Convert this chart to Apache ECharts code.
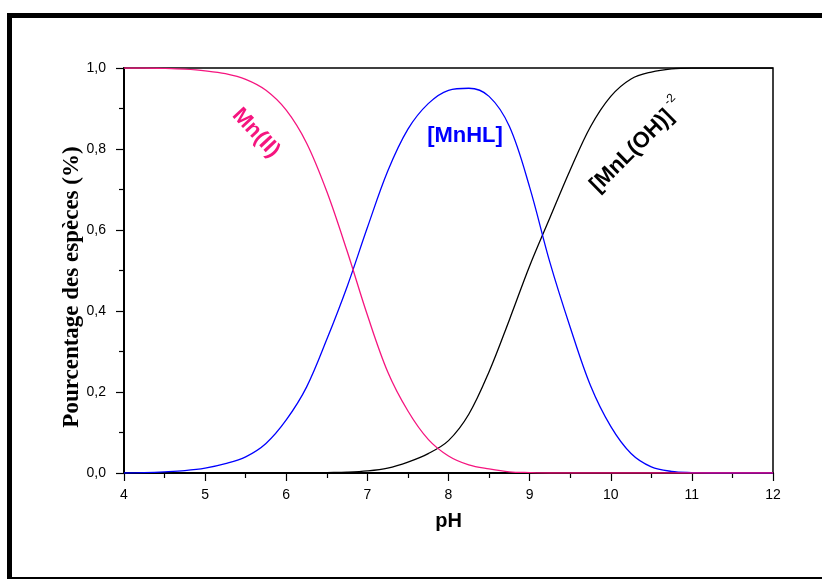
<!DOCTYPE html>
<html>
<head>
<meta charset="utf-8">
<script src="https://cdn.jsdelivr.net/npm/echarts@6/dist/echarts.min.js"></script>
<style>html,body{margin:0;padding:0;background:#fff}#c{width:822px;height:579px}</style>
</head>
<body>
<div id="c"></div>
<script>
var pH = [4,4.25,4.5,4.75,5,5.25,5.5,5.75,6,6.25,6.5,6.75,7,7.25,7.5,7.75,8,8.25,8.5,8.75,9,9.25,9.5,9.75,10,10.25,10.5,10.75,11,11.25,11.5,11.75,12];
var mnII = [1.0,1.0,0.999,0.997,0.993,0.986,0.972,0.945,0.896,0.815,0.695,0.548,0.39,0.25,0.153,0.083,0.042,0.02,0.01,0.003,0.001,0,0,0,0,0,0,0,0,0,0,0,0];
var mnHL = [0,0.001,0.003,0.006,0.012,0.023,0.04,0.073,0.131,0.212,0.33,0.46,0.606,0.745,0.849,0.912,0.945,0.95,0.93,0.856,0.706,0.52,0.36,0.216,0.115,0.048,0.015,0.004,0.001,0,0,0,0];
var mnLOH = [0,0,0,0,0,0,0,0,0,0,0.001,0.002,0.005,0.012,0.027,0.048,0.08,0.145,0.25,0.378,0.511,0.63,0.748,0.855,0.93,0.973,0.99,0.998,1.0,1.0,1.0,1.0,1.0];
var yTicks = ['0,0','0,2','0,4','0,6','0,8','1,0'];
var xTicks = ['4','5','6','7','8','9','10','11','12'];

function pairs(arr){ return pH.map(function(x,i){ return [x, arr[i]]; }); }

var chart = echarts.init(document.getElementById('c'), null, {renderer:'canvas'});
var PINK = '#f5157f', BLUE = '#0000ff';
var SANS = 'Liberation Sans, Arial';
var supX = 54 + 9;
chart.setOption({
  animation: false,
  backgroundColor: '#fff',
  grid: {left:124, right:49, top:68, bottom:106, show:true, borderColor:'#000', borderWidth:1.5, backgroundColor:'transparent'},
  xAxis: {
    type:'value', min:4, max:12, interval:1,
    name:'pH', nameLocation:'middle', nameGap:38,
    nameTextStyle:{fontFamily:SANS, fontWeight:'bold', fontSize:20, color:'#000'},
    axisLine:{show:true, onZero:false, lineStyle:{color:'#000', width:2}},
    axisTick:{show:true, length:8, lineStyle:{color:'#000', width:1.2}},
    minorTick:{show:true, splitNumber:2, length:5, lineStyle:{color:'#000', width:1.2}},
    splitLine:{show:false},
    axisLabel:{margin:15, fontFamily:SANS, fontSize:14, color:'#000',
      formatter:function(v){ var i = Math.round(v-4); return xTicks[i] !== undefined ? xTicks[i] : ''; }}
  },
  yAxis: {
    type:'value', min:0, max:1, interval:0.2,
    axisLine:{show:true, onZero:false, lineStyle:{color:'#000', width:2}},
    axisTick:{show:true, length:8, lineStyle:{color:'#000', width:1.2}},
    minorTick:{show:true, splitNumber:2, length:5, lineStyle:{color:'#000', width:1.2}},
    splitLine:{show:false},
    axisLabel:{margin:18, fontFamily:SANS, fontSize:14, color:'#000',
      formatter:function(v){ var i = Math.round(v*5); return yTicks[i] !== undefined ? yTicks[i] : ''; }}
  },
  series: [
    {type:'line', name:'MnL(OH)', data:pairs(mnLOH), smooth:0.35, showSymbol:false, lineStyle:{color:'#000', width:1.3}, z:3},
    {type:'line', name:'MnHL', data:pairs(mnHL), smooth:0.35, showSymbol:false, lineStyle:{color:BLUE, width:1.3}, z:4},
    {type:'line', name:'Mn(II)', data:pairs(mnII), smooth:0.35, showSymbol:false, lineStyle:{color:PINK, width:1.3}, z:5}
  ],
  graphic: [
    {type:'rect', shape:{x:9.5, y:15.5, width:900, height:564}, style:{fill:'none', stroke:'#000', lineWidth:5}, z:100},
    {type:'text', x:72, y:287, rotation:Math.PI/2, style:{text:'Pourcentage des espèces (%)', fontFamily:'Liberation Serif, Times New Roman', fontWeight:'bold', fontSize:23, fill:'#000', align:'center', verticalAlign:'middle'}},
    {type:'text', x:256, y:133, rotation:-0.82, style:{text:'Mn(II)', fontFamily:SANS, fontWeight:'bold', fontSize:22, fill:PINK, align:'center', verticalAlign:'middle'}},
    {type:'text', x:465, y:136, style:{text:'[MnHL]', fontFamily:SANS, fontWeight:'bold', fontSize:22, fill:BLUE, align:'center', verticalAlign:'middle'}},
    {type:'group', x:632, y:151, rotation:0.78, children:[
      {type:'text', x:0, y:0, style:{text:'[MnL(OH)]', fontFamily:SANS, fontWeight:'bold', fontSize:22, fill:'#000', align:'center', verticalAlign:'middle'}},
      {type:'text', x:supX, y:-10, style:{text:'-2', fontFamily:SANS, fontSize:12, fill:'#000', align:'center', verticalAlign:'middle'}}
    ]}
  ]
});
</script>
</body>
</html>
